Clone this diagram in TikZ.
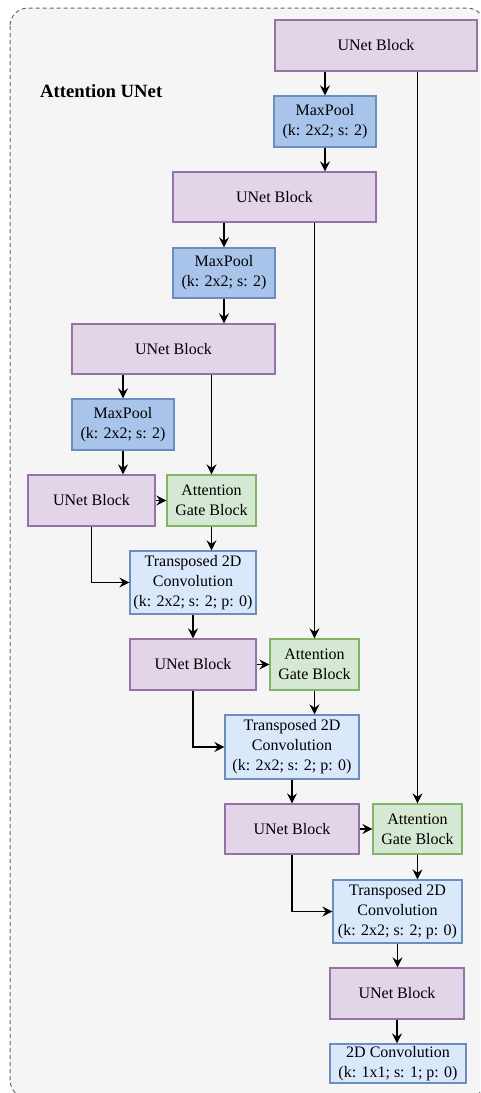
\documentclass[tikz,border=0pt]{standalone}
\usepackage{fontspec}
\setmainfont{Liberation Serif}
\usetikzlibrary{arrows.meta}
\definecolor{frameFill}{HTML}{F5F5F5}
\definecolor{frameLine}{HTML}{666666}
\definecolor{blockFill}{HTML}{E1D5E7}
\definecolor{blockLine}{HTML}{9673A6}
\definecolor{poolFill}{HTML}{A9C4EB}
\definecolor{convFill}{HTML}{DAE8FC}
\definecolor{convLine}{HTML}{6C8EBF}
\definecolor{gateFill}{HTML}{D5E8D4}
\definecolor{gateLine}{HTML}{82B366}
\begin{document}
\begin{tikzpicture}[x=1pt,y=-1pt,
  box/.style={rectangle,line width=1.3pt,inner sep=0pt,align=center,
    font=\fontsize{16}{20}\selectfont},
  unet/.style={box,fill=blockFill,draw=blockLine},
  pool/.style={box,fill=poolFill,draw=convLine},
  conv/.style={box,fill=convFill,draw=convLine},
  gate/.style={box,fill=gateFill,draw=gateLine},
  link/.style={line width=1.3pt,-{Stealth[length=10pt,width=10pt,inset=3.5pt]}}]
\useasboundingbox (0,0) rectangle (480,1093);
\clip (0,0) rectangle (480,1093);
% outer group frame
\draw[fill=frameFill,draw=frameLine,line width=1pt,dash pattern=on 4pt off 3pt,rounded corners=18pt]
  (10,8) rectangle (485,1098);
\node[anchor=west,inner sep=0pt,font=\fontsize{18.7}{22}\selectfont\bfseries] (title) at (40,91) {Attention UNet};
% encoder path
\node[unet,minimum width=202pt,minimum height=51pt] (u1) at (376,45.5) {UNet Block};
\node[pool,minimum width=102pt,minimum height=51pt] (m1) at (325,121.5) {MaxPool\\(k: 2x2; s: 2)};
\node[unet,minimum width=203pt,minimum height=50pt] (u2) at (274.5,197) {UNet Block};
\node[pool,minimum width=102pt,minimum height=50pt] (m2) at (224,273) {MaxPool\\(k: 2x2; s: 2)};
\node[unet,minimum width=203pt,minimum height=50pt] (u3) at (173.5,349) {UNet Block};
\node[pool,minimum width=102pt,minimum height=51pt] (m3) at (123,424.5) {MaxPool\\(k: 2x2; s: 2)};
\node[unet,minimum width=127pt,minimum height=51pt] (u4) at (91.5,500.5) {UNet Block};
% decoder path
\node[gate,minimum width=89pt,minimum height=51pt] (a1) at (211.5,500.5) {Attention\\Gate Block};
\node[conv,minimum width=126pt,minimum height=63pt] (t1) at (193,582.5) {Transposed 2D\\Convolution\\(k: 2x2; s: 2; p: 0)};
\node[unet,minimum width=126pt,minimum height=51pt] (u5) at (193,664.5) {UNet Block};
\node[gate,minimum width=89pt,minimum height=51pt] (a2) at (314.5,664.5) {Attention\\Gate Block};
\node[conv,minimum width=134pt,minimum height=64pt] (t2) at (292,747) {Transposed 2D\\Convolution\\(k: 2x2; s: 2; p: 0)};
\node[unet,minimum width=134pt,minimum height=50pt] (u6) at (292,829) {UNet Block};
\node[gate,minimum width=89pt,minimum height=50pt] (a3) at (417.5,829) {Attention\\Gate Block};
\node[conv,minimum width=129pt,minimum height=63pt] (t3) at (397.5,911.5) {Transposed 2D\\Convolution\\(k: 2x2; s: 2; p: 0)};
\node[unet,minimum width=134pt,minimum height=51pt] (u7) at (397,993.5) {UNet Block};
\node[conv,minimum width=136pt,minimum height=39pt] (c1) at (398,1063.5) {2D Convolution\\(k: 1x1; s: 1; p: 0)};
% down-sampling connectors
\draw[link] (m1.north |- u1.south) -- (m1.north);
\draw[link] (m1.south) -- (m1.south |- u2.north);
\draw[link] (m2.north |- u2.south) -- (m2.north);
\draw[link] (m2.south) -- (m2.south |- u3.north);
\draw[link] (m3.north |- u3.south) -- (m3.north);
\draw[link] (m3.south) -- (m3.south |- u4.north);
% skip connections into the attention gates
\draw[link] (a3.north |- u1.south) -- (a3.north);
\draw[link] (a2.north |- u2.south) -- (a2.north);
\draw[link] (a1.north |- u3.south) -- (a1.north);
% up-sampling connectors
\draw[link] (u4.east) -- (a1.west);
\draw[link] (u4.south) |- (t1.west);
\draw[link] (a1.south) -- (a1.south |- t1.north);
\draw[link] (t1.south) -- (u5.north);
\draw[link] (u5.east) -- (a2.west);
\draw[link] (u5.south) |- (t2.west);
\draw[link] (a2.south) -- (a2.south |- t2.north);
\draw[link] (t2.south) -- (u6.north);
\draw[link] (u6.east) -- (a3.west);
\draw[link] (u6.south) |- (t3.west);
\draw[link] (a3.south) -- (a3.south |- t3.north);
\draw[link] (t3.south) -- (t3.south |- u7.north);
\draw[link] (u7.south) -- (u7.south |- c1.north);
\end{tikzpicture}
\end{document}
